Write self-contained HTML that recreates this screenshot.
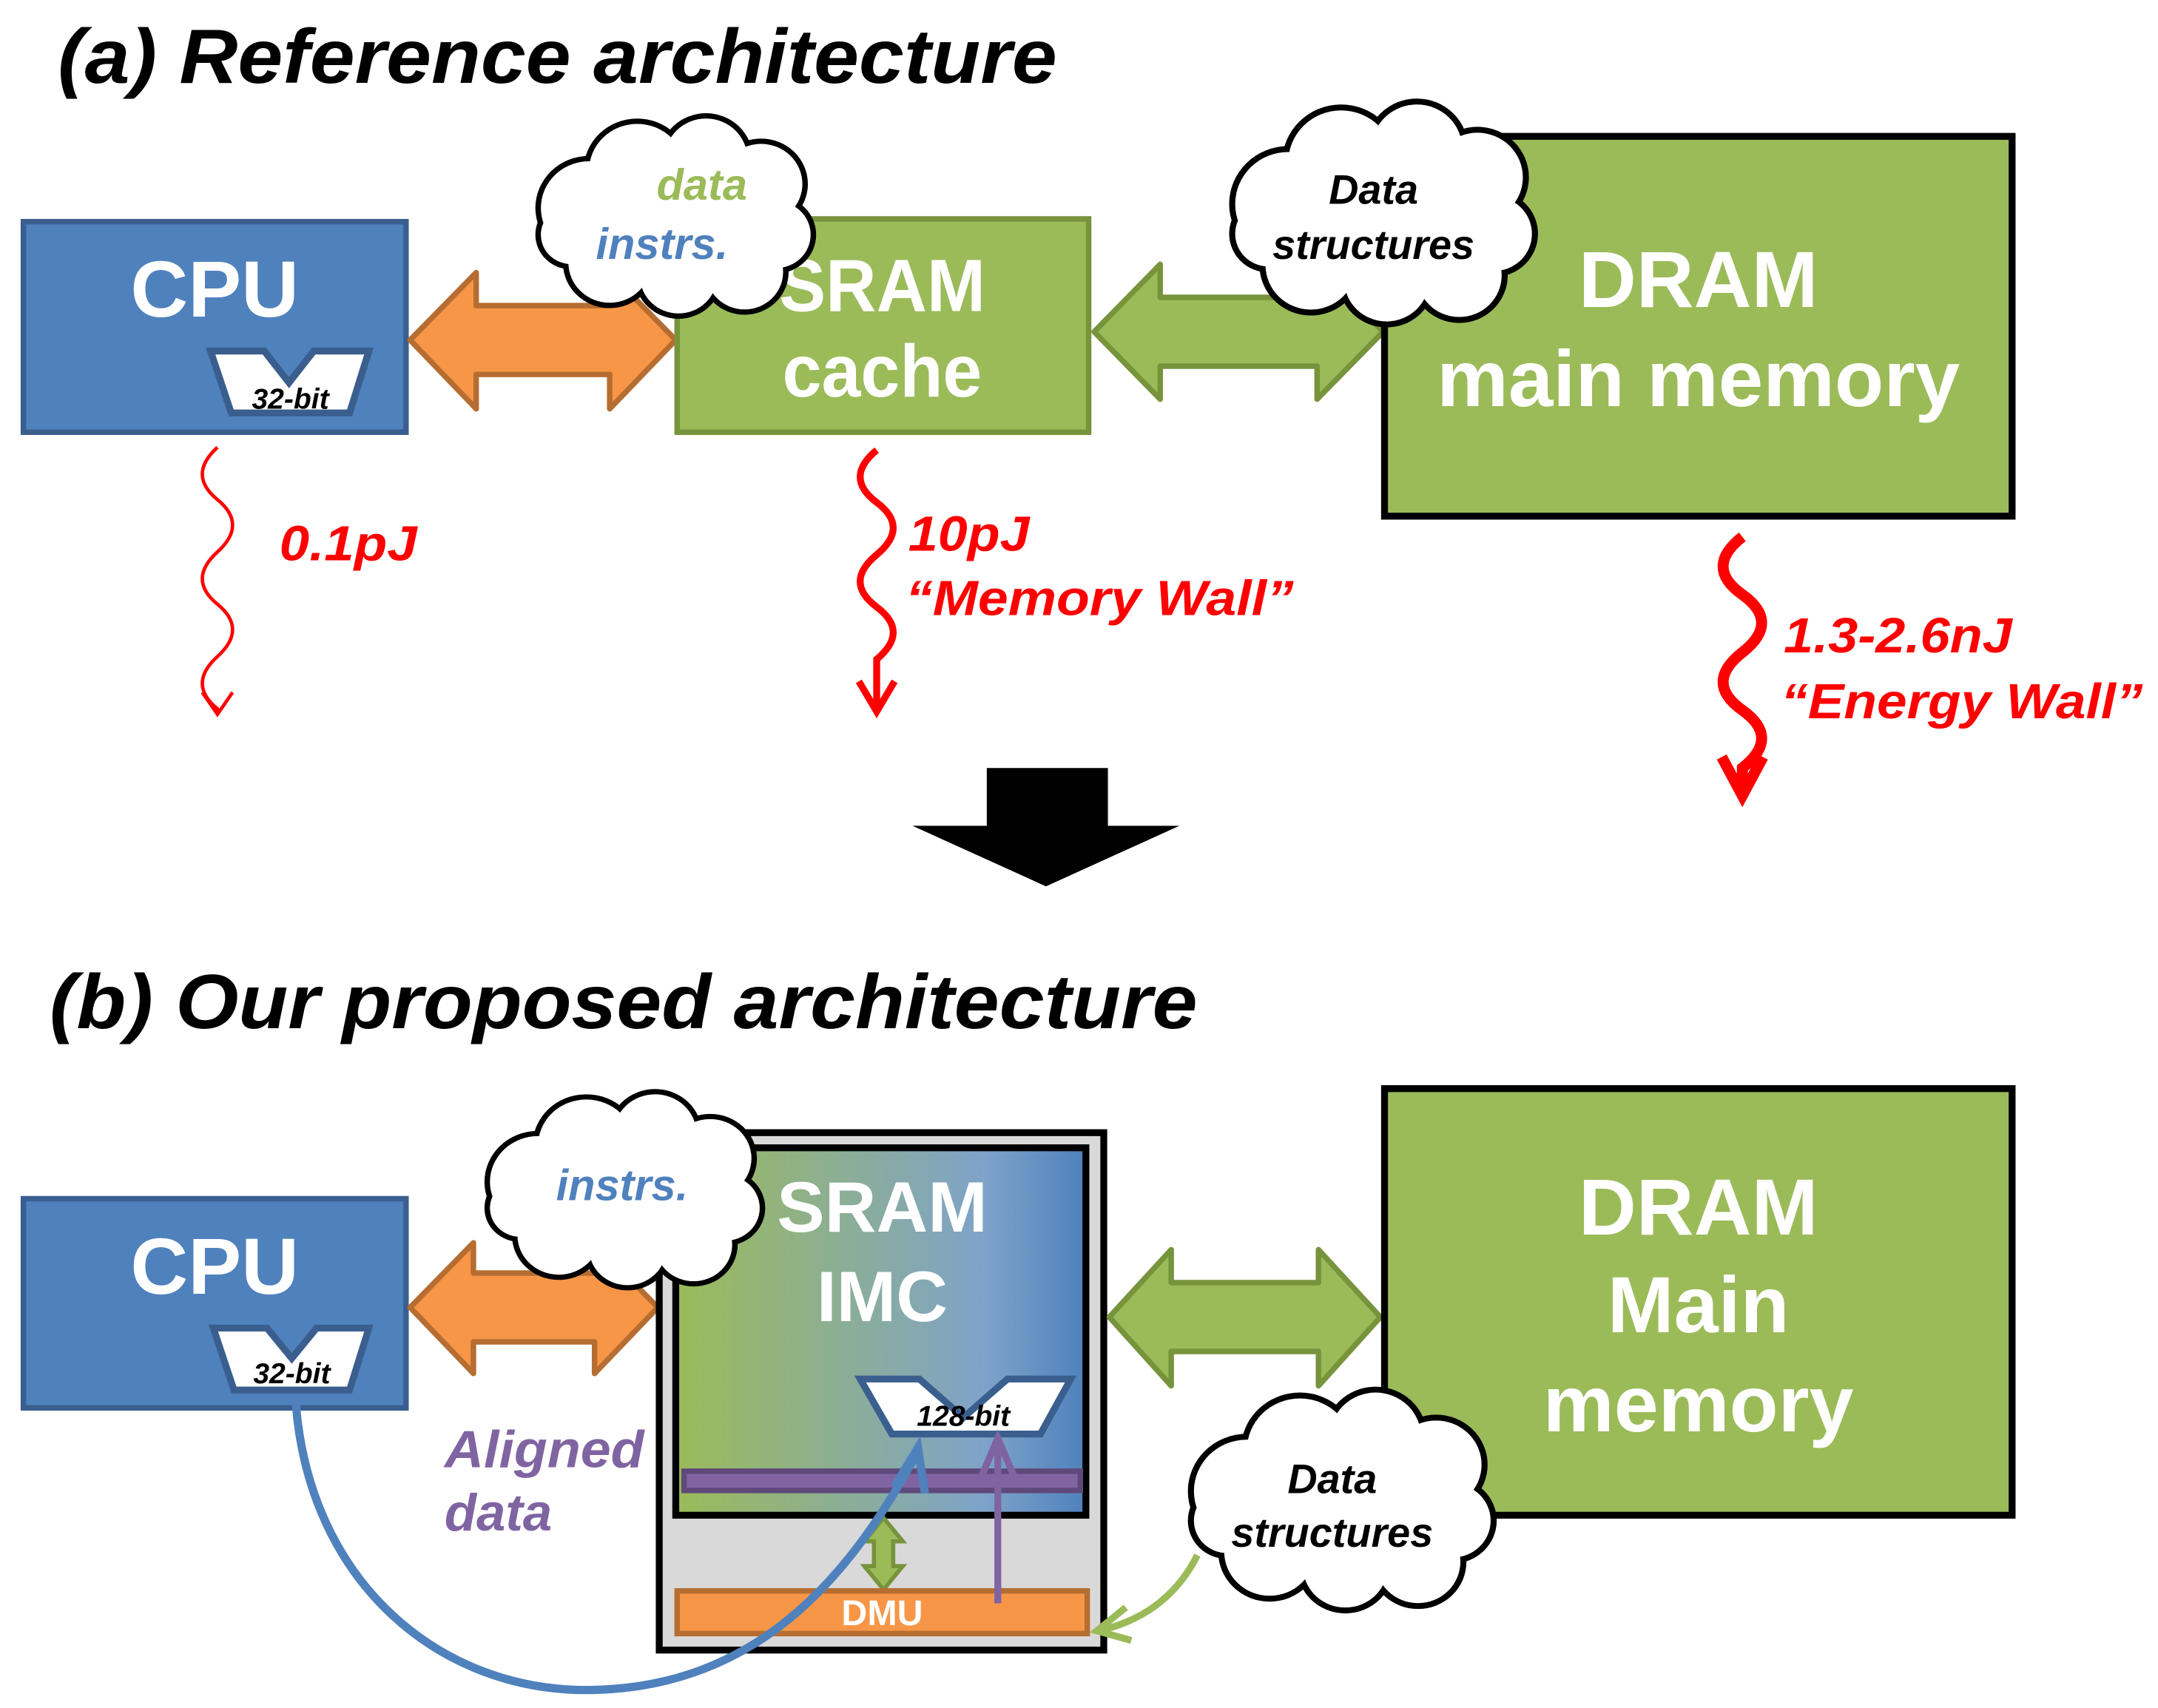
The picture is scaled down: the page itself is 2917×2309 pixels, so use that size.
<!DOCTYPE html>
<html><head><meta charset="utf-8"><style>
html,body{margin:0;padding:0;background:#fff;}
svg{display:block;}
text{font-family:"Liberation Sans",Arial,sans-serif;font-weight:bold;}
</style></head><body>
<svg width="2917" height="2309" viewBox="0 0 1568 1241" xmlns="http://www.w3.org/2000/svg">
<defs>
<g id="cl">
 <g fill="#000">
  <circle cx="40" cy="65" r="39"/><circle cx="75" cy="37" r="39"/><circle cx="125" cy="28" r="34"/><circle cx="165" cy="47" r="34"/><circle cx="176" cy="85" r="29"/><circle cx="153" cy="113" r="32"/><circle cx="105" cy="116" r="32"/><circle cx="55" cy="106" r="34"/><circle cx="27" cy="85" r="26"/>
 </g>
 <g fill="#fff">
  <circle cx="40" cy="65" r="35"/><circle cx="75" cy="37" r="35"/><circle cx="125" cy="28" r="30"/><circle cx="165" cy="47" r="30"/><circle cx="176" cy="85" r="25"/><circle cx="153" cy="113" r="28"/><circle cx="105" cy="116" r="28"/><circle cx="55" cy="106" r="30"/><circle cx="27" cy="85" r="22"/>
  <rect x="40" y="40" width="130" height="80"/>
 </g>
</g>
<linearGradient id="gr" x1="0" x2="1" y1="0" y2="0">
 <stop offset="0" stop-color="#9bbb59"/><stop offset="0.75" stop-color="#7fa3c9"/><stop offset="1" stop-color="#4f81bd"/>
</linearGradient>
</defs>

<!-- (a) -->
<text x="42" y="60" font-size="56" font-style="italic" fill="#000" textLength="726" lengthAdjust="spacingAndGlyphs">(a) Reference architecture</text>

<rect x="17" y="161" width="278" height="153" fill="#4f81bd" stroke="#3a5f8f" stroke-width="4"/>
<text x="156" y="230" font-size="58" fill="#fff" text-anchor="middle">CPU</text>
<polygon points="153,255 192,255 210,278 228,255 268,255 254,300 168,300" fill="#fff" stroke="#3a5f8f" stroke-width="5"/>
<text x="211" y="297" font-size="21" font-style="italic" fill="#000" text-anchor="middle">32-bit</text>

<polygon points="298,247 346,198 346,222 443,222 443,198 491,247 443,297 443,272 346,272 346,297" fill="#f79646" stroke="#b66d31" stroke-width="4" stroke-linejoin="round"/>

<rect x="492" y="159" width="299" height="155" fill="#9bbb59" stroke="#77933c" stroke-width="4"/>
<text x="641" y="226" font-size="54" fill="#fff" text-anchor="middle" textLength="150" lengthAdjust="spacingAndGlyphs">SRAM</text>
<text x="641" y="288" font-size="54" fill="#fff" text-anchor="middle" textLength="145" lengthAdjust="spacingAndGlyphs">cache</text>

<polygon points="795,241 843,192 843,216 957,216 957,192 1005,241 957,290 957,266 843,266 843,290" fill="#9bbb59" stroke="#77933c" stroke-width="4" stroke-linejoin="round"/>

<rect x="1006" y="99" width="456" height="276" fill="#9bbb59" stroke="#000" stroke-width="5"/>
<text x="1234" y="223" font-size="58" fill="#fff" text-anchor="middle">DRAM</text>
<text x="1234" y="295" font-size="58" fill="#fff" text-anchor="middle" textLength="380" lengthAdjust="spacingAndGlyphs">main memory</text>

<use href="#cl" transform="translate(388,88) scale(1.0,0.97)"/>
<text x="510" y="145" font-size="32" font-style="italic" fill="#9bbb59" text-anchor="middle">data</text>
<text x="481" y="188" font-size="32" font-style="italic" fill="#4f81bd" text-anchor="middle">instrs.</text>

<use href="#cl" transform="translate(892,78) scale(1.1,1.08)"/>
<text x="998" y="148" font-size="30" font-style="italic" fill="#000" text-anchor="middle">Data</text>
<text x="998" y="188" font-size="30" font-style="italic" fill="#000" text-anchor="middle">structures</text>

<!-- squiggles -->
<path d="M158,325 q-22,20 0,38 t0,38 t0,38 t0,38 t0,38 L158,519" fill="none" stroke="#ff0000" stroke-width="2.5"/>
<path d="M147,503 L158,519 L169,503" fill="none" stroke="#ff0000" stroke-width="2.5"/>
<text x="203" y="407" font-size="36" font-style="italic" fill="#ff0000" textLength="100" lengthAdjust="spacingAndGlyphs">0.1pJ</text>

<path d="M637,327 q-24,20 0,38 t0,38 t0,38 t0,38 L637,515" fill="none" stroke="#ff0000" stroke-width="5"/>
<path d="M624,495 L637,517 L650,495" fill="none" stroke="#ff0000" stroke-width="5"/>
<text x="660" y="400" font-size="36" font-style="italic" fill="#ff0000" textLength="88" lengthAdjust="spacingAndGlyphs">10pJ</text>
<text x="658" y="447" font-size="36" font-style="italic" fill="#ff0000" textLength="282" lengthAdjust="spacingAndGlyphs">“Memory Wall”</text>

<path d="M1266,390 q-28,22 0,42 t0,42 t0,42 t0,42 L1266,575" fill="none" stroke="#ff0000" stroke-width="8"/>
<path d="M1251,550 L1266,578 L1281,550" fill="none" stroke="#ff0000" stroke-width="8"/>
<text x="1296" y="474" font-size="36" font-style="italic" fill="#ff0000" textLength="166" lengthAdjust="spacingAndGlyphs">1.3-2.6nJ</text>
<text x="1294" y="522" font-size="36" font-style="italic" fill="#ff0000" textLength="263" lengthAdjust="spacingAndGlyphs">“Energy Wall”</text>

<!-- big arrow -->
<polygon points="717,558 805,558 805,600 857,600 760,644 663,600 717,600" fill="#000"/>

<!-- (b) -->
<text x="36" y="747" font-size="56" font-style="italic" fill="#000" textLength="834" lengthAdjust="spacingAndGlyphs">(b) Our proposed architecture</text>

<rect x="17" y="871" width="278" height="152" fill="#4f81bd" stroke="#3a5f8f" stroke-width="4"/>
<text x="156" y="940" font-size="58" fill="#fff" text-anchor="middle">CPU</text>
<polygon points="155,965 194,965 212,987 230,965 268,965 254,1010 170,1010" fill="#fff" stroke="#3a5f8f" stroke-width="5"/>
<text x="212" y="1005" font-size="21" font-style="italic" fill="#000" text-anchor="middle">32-bit</text>

<polygon points="298,950 344,903 344,925 432,925 432,903 478,950 432,998 432,975 344,975 344,998" fill="#f79646" stroke="#b66d31" stroke-width="4" stroke-linejoin="round"/>

<rect x="479" y="823" width="323" height="376" fill="#d9d9d9" stroke="#000" stroke-width="5"/>
<rect x="491" y="834" width="298" height="267" fill="url(#gr)" stroke="#000" stroke-width="5"/>
<text x="641" y="895" font-size="52" fill="#fff" text-anchor="middle">SRAM</text>
<text x="641" y="960" font-size="52" fill="#fff" text-anchor="middle">IMC</text>
<rect x="497" y="1069" width="288" height="14" fill="#8064a2" stroke="#5f497a" stroke-width="4"/>
<polygon points="625,1002 668,1002 700,1030 732,1002 778,1002 756,1042 648,1042" fill="#fff" stroke="#3a5f8f" stroke-width="5"/>
<text x="700" y="1036" font-size="21" font-style="italic" fill="#000" text-anchor="middle">128-bit</text>

<polygon points="642,1103 656,1120 649,1120 649,1138 656,1138 642,1155 628,1138 635,1138 635,1120 628,1120" fill="#9bbb59" stroke="#77933c" stroke-width="3"/>

<rect x="492" y="1156" width="298" height="31" fill="#f79646" stroke="#b66d31" stroke-width="4"/>
<text x="641" y="1181" font-size="26" fill="#fff" text-anchor="middle">DMU</text>

<path d="M725,1165 L725,1045" stroke="#8064a2" stroke-width="5" fill="none"/>
<path d="M711,1078 L725,1045 L739,1078" stroke="#8064a2" stroke-width="5" fill="none"/>

<path d="M215,1020 C225,1150 320,1230 430,1228 C540,1226 610,1160 665,1058" stroke="#4f81bd" stroke-width="6" fill="none"/>
<path d="M650,1080 L667,1052 L672,1085" stroke="#4f81bd" stroke-width="6" fill="none"/>

<polygon points="806,957 851,908 851,932 958,932 958,908 1003,957 958,1007 958,982 851,982 851,1007" fill="#9bbb59" stroke="#77933c" stroke-width="4" stroke-linejoin="round"/>

<rect x="1006" y="791" width="456" height="310" fill="#9bbb59" stroke="#000" stroke-width="5"/>
<text x="1234" y="897" font-size="58" fill="#fff" text-anchor="middle">DRAM</text>
<text x="1234" y="968" font-size="58" fill="#fff" text-anchor="middle">Main</text>
<text x="1234" y="1040" font-size="58" fill="#fff" text-anchor="middle">memory</text>

<use href="#cl" transform="translate(351,797) scale(1.0,0.95)"/>
<text x="452" y="872" font-size="32" font-style="italic" fill="#4f81bd" text-anchor="middle">instrs.</text>

<path d="M870,1130 C855,1160 830,1178 798,1185" stroke="#9bbb59" stroke-width="5" fill="none"/>
<path d="M818,1168 L797,1185 L822,1192" stroke="#9bbb59" stroke-width="5" fill="none"/>

<use href="#cl" transform="translate(862,1014) scale(1.1,1.07)"/>
<text x="968" y="1085" font-size="30" font-style="italic" fill="#000" text-anchor="middle">Data</text>
<text x="968" y="1124" font-size="30" font-style="italic" fill="#000" text-anchor="middle">structures</text>

<text x="323" y="1066" font-size="38" font-style="italic" fill="#8064a2" textLength="145" lengthAdjust="spacingAndGlyphs">Aligned</text>
<text x="323" y="1112" font-size="38" font-style="italic" fill="#8064a2">data</text>
</svg>
</body></html>
